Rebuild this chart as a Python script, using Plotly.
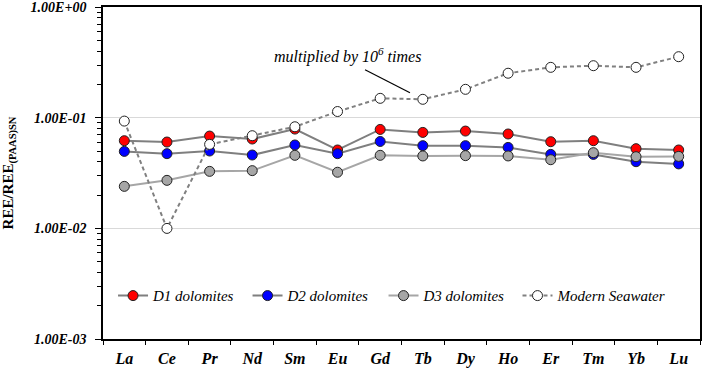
import plotly.graph_objects as go

categories = ["La", "Ce", "Pr", "Nd", "Sm", "Eu", "Gd", "Tb", "Dy", "Ho", "Er", "Tm", "Yb", "Lu"]
d1 = [0.0621, 0.0604, 0.0684, 0.0643, 0.0791, 0.0512, 0.0785, 0.0738, 0.0759, 0.0714, 0.0608, 0.0621, 0.0526, 0.0512]
d2 = [0.0497, 0.0474, 0.0501, 0.0461, 0.0568, 0.0474, 0.0611, 0.0560, 0.0560, 0.0540, 0.0467, 0.0467, 0.0401, 0.0383]
d3 = [0.0240, 0.0272, 0.0328, 0.0333, 0.0458, 0.0322, 0.0458, 0.0452, 0.0455, 0.0452, 0.0418, 0.0484, 0.0445, 0.0448]
seawater = [0.0934, 0.0100, 0.0575, 0.0689, 0.0830, 0.114, 0.150, 0.147, 0.181, 0.253, 0.286, 0.296, 0.286, 0.357]
series_names = ["D1 dolomites", "D2 dolomites", "D3 dolomites", "Modern Seawater"]
ytick_vals = [0.001, 0.01, 0.1, 1]
ytick_text = ["1.00E-03", "1.00E-02", "1.00E-01", "1.00E+00"]
minor_vals = [m * d for d in (0.001, 0.01, 0.1) for m in range(2, 10)]

SERIF = "Liberation Serif"

fig = go.Figure()
styles = [
    (d1, "#7f7f7f", "solid", "#ff0000"),
    (d2, "#7f7f7f", "solid", "#0000ff"),
    (d3, "#a6a6a6", "solid", "#a6a6a6"),
    (seawater, "#808080", "4px,3px", "#ffffff"),
]
legend_ids = ["legend", "legend2", "legend3", "legend4"]
legend_x = [0.0168, 0.2421, 0.4699, 0.6943]
for name, lid, (vals, lc, dash, mc) in zip(series_names, legend_ids, styles):
    fig.add_trace(go.Scatter(
        x=categories, y=vals, name=name, mode="lines+markers", legend=lid,
        line=dict(color=lc, width=2, dash=dash),
        marker=dict(color=mc, size=10, line=dict(color="#222222", width=1)),
    ))

legend_common = dict(
    orientation="h", y=0.13, xanchor="left", yanchor="middle",
    font=dict(family=SERIF, size=15, style="italic"),
    bgcolor="rgba(0,0,0,0)",
)
fig.update_layout(**{lid: dict(x=lx, **legend_common) for lid, lx in zip(legend_ids, legend_x)})

fig.update_layout(
    width=706, height=368,
    margin=dict(l=103, r=6, t=7, b=29),
    paper_bgcolor="white", plot_bgcolor="white",
    font=dict(family=SERIF, color="black"),
    showlegend=True,
    xaxis=dict(
        type="category", range=[-0.5, 13.5], automargin=False,
        showline=True, linecolor="black", linewidth=1.5, mirror=True,
        ticks="outside", ticklen=4, tickcolor="black", tickson="boundaries",
        ticklabelstandoff=4,
        tickfont=dict(family=SERIF, size=16, weight="bold", style="italic"),
        showgrid=False, zeroline=False,
    ),
    yaxis=dict(
        type="log", range=[-3, 0.002], automargin=False,
        tickvals=ytick_vals, ticktext=ytick_text,
        showline=True, linecolor="black", linewidth=1.5, mirror=True,
        ticks="outside", ticklen=6, tickcolor="black",
        minor=dict(ticks="outside", ticklen=4, tickcolor="black", tickvals=minor_vals, showgrid=False),
        tickfont=dict(family=SERIF, size=14, weight="bold", style="italic"),
        ticklabelstandoff=6,
        showgrid=True, gridcolor="#d9d9d9", gridwidth=1,
        title=dict(text="REE/REE<sub>(PAAS)SN</sub>", standoff=17,
                   font=dict(family=SERIF, size=15, weight="bold")),
    ),
)

fig.add_annotation(
    xref="paper", yref="paper", x=0.41, y=0.853,
    text="multiplied by 10<sup>6</sup> times", showarrow=False,
    font=dict(family=SERIF, size=16, style="italic"),
    xanchor="center", yanchor="middle",
)
fig.add_shape(
    type="line", xref="paper", yref="paper",
    x0=0.4389, y0=0.8108, x1=0.5142, y1=0.7417,
    line=dict(color="black", width=1.2),
)

fig.write_html("out.html", config={"displayModeBar": False},
               post_script="document.body.style.margin='0';document.body.style.overflow='hidden';")
